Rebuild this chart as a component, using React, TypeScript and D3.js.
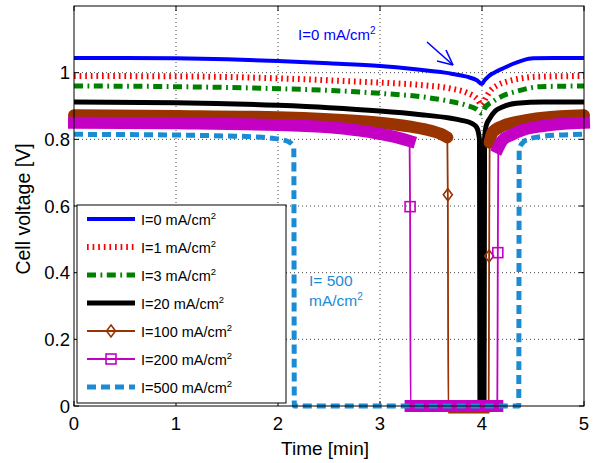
import React from "react";
import * as d3 from "d3";

type Pt = [number, number];

// Axis ticks
const xTicks = [0, 1, 2, 3, 4, 5];
const yTicks = [0, 0.2, 0.4, 0.6, 0.8, 1];
const yTickLabels = ["0", "0.2", "0.4", "0.6", "0.8", "1"];

// Current densities (mA/cm²), in legend order
const currents = [0, 1, 3, 20, 100, 200, 500];

// Cell voltage [V] against time [min] for each current density
const seriesI0: Pt[] = [
  [0, 1.044], [0.5, 1.044], [1, 1.043], [1.5, 1.04], [2, 1.035], [2.5, 1.028],
  [3, 1.02], [3.3, 1.012], [3.5, 1.005], [3.7, 0.997], [3.85, 0.988], [3.95, 0.977],
  [4.0, 0.966], [4.02, 0.975], [4.06, 0.988], [4.12, 1.0], [4.2, 1.012], [4.3, 1.026],
  [4.4, 1.037], [4.5, 1.043], [4.7, 1.044], [5, 1.044],
];
const seriesI1: Pt[] = [
  [0, 0.99], [1, 0.989], [2, 0.983], [2.5, 0.977], [3, 0.97], [3.4, 0.963],
  [3.7, 0.952], [3.85, 0.94], [3.95, 0.922], [4.0, 0.903], [4.03, 0.92], [4.08, 0.945],
  [4.15, 0.962], [4.25, 0.974], [4.35, 0.981], [4.55, 0.988], [5, 0.99],
];
const seriesI3: Pt[] = [
  [0, 0.96], [1, 0.958], [2, 0.952], [2.5, 0.947], [3, 0.938], [3.4, 0.928],
  [3.7, 0.913], [3.85, 0.902], [3.95, 0.89], [4.0, 0.878], [4.03, 0.895], [4.11, 0.914],
  [4.2, 0.93], [4.34, 0.944], [4.57, 0.958], [5, 0.96],
];
const seriesI20: Pt[] = [
  [0, 0.912], [1, 0.91], [2, 0.902], [2.5, 0.895], [3, 0.885], [3.4, 0.874],
  [3.68, 0.864], [3.8, 0.857], [3.9, 0.848], [3.95, 0.835], [3.975, 0.8], [3.98, 0],
  [4.02, 0], [4.025, 0.8], [4.04, 0.84], [4.07, 0.86], [4.13, 0.885], [4.2, 0.897],
  [4.34, 0.908], [4.6, 0.912], [5, 0.912],
];
const seriesI100: Pt[] = [
  [0, 0.872], [1, 0.87], [2, 0.866], [2.5, 0.86], [3, 0.85], [3.3, 0.838],
  [3.5, 0.826], [3.6, 0.816], [3.66, 0.806], [3.665, 0.634], [3.67, -0.02],
  [4.065, -0.02], [4.07, 0.45], [4.075, 0.79], [4.1, 0.82], [4.2, 0.84],
  [4.37, 0.854], [4.6, 0.865], [5, 0.872],
];
const seriesI200: Pt[] = [
  [0, 0.85], [1, 0.848], [2, 0.843], [2.5, 0.836], [2.8, 0.826], [3, 0.816],
  [3.2, 0.803], [3.29, 0.795], [3.295, 0.598], [3.3, 0], [4.15, 0], [4.155, 0.46],
  [4.16, 0.775], [4.2, 0.797], [4.3, 0.815], [4.4, 0.828], [4.6, 0.84], [4.8, 0.847],
  [5, 0.85],
];
const seriesI500: Pt[] = [
  [0, 0.815], [1, 0.813], [1.5, 0.81], [1.8, 0.807], [1.95, 0.803], [2.05, 0.798],
  [2.12, 0.79], [2.155, 0.775], [2.16, 0], [4.36, 0], [4.365, 0.77], [4.4, 0.79],
  [4.45, 0.8], [4.55, 0.807], [4.7, 0.812], [5, 0.815],
];

// Time spans where the marker traces are sampled densely
const bandI100: Pt[] = [[0, 3.66], [4.075, 5]];
const bandI200: Pt[] = [[0, 3.29], [3.3, 4.15], [4.16, 5]];
// Isolated samples on the voltage drops / recoveries
const markersI100: Pt[] = [[3.665, 0.634], [4.07, 0.45]];
const markersI200: Pt[] = [[3.295, 0.598], [4.155, 0.46]];

const W = 595;
const H = 463;
const M = { left: 74, right: 584, top: 6, bottom: 406 };

const C = {
  i0: "#0000ff",
  i1: "#ff0000",
  i3: "#008000",
  i20: "#000000",
  i100: "#993300",
  i200: "#c400c4",
  i500: "#1b8bd4",
};

const FONT = "'Liberation Sans', Arial, Helvetica, sans-serif";

export default function App() {
  const x = d3.scaleLinear().domain([0, 5]).range([M.left, M.right]);
  const y = d3.scaleLinear().domain([0, 1.2]).range([M.bottom, M.top]);

  const line = d3
    .line<Pt>()
    .x((d) => x(d[0]))
    .y((d) => y(d[1]))
    .curve(d3.curveMonotoneX);

  const inRanges = (pts: Pt[], ranges: Pt[]) =>
    ranges.map(([a, b]) => pts.filter((p) => p[0] >= a - 1e-9 && p[0] <= b + 1e-9));

  const diamond = (cx: number, cy: number, key: string) => (
    <path
      key={key}
      d={`M${cx},${cy - 6}L${cx + 4.5},${cy}L${cx},${cy + 6}L${cx - 4.5},${cy}Z`}
      fill="none"
      stroke={C.i100}
      strokeWidth={1.6}
    />
  );
  const square = (cx: number, cy: number, key: string) => (
    <rect
      key={key}
      x={cx - 5}
      y={cy - 5}
      width={10}
      height={10}
      fill="none"
      stroke={C.i200}
      strokeWidth={1.6}
    />
  );

  const styles = [
    { stroke: C.i0, width: 4, dash: undefined as string | undefined },
    { stroke: C.i1, width: 6, dash: "1.7 3.9" },
    { stroke: C.i3, width: 5, dash: "9 4.5 1.8 4.5" },
    { stroke: C.i20, width: 5, dash: undefined },
    { stroke: C.i100, width: 1.8, dash: undefined },
    { stroke: C.i200, width: 1.8, dash: undefined },
    { stroke: C.i500, width: 5, dash: "9 5" },
  ];

  const legendX0 = 87;
  const legendX1 = 135;
  const legendTop = 219;
  const legendStep = 28;

  return (
    <div style={{ position: "fixed", left: 0, top: 0 }}>
      <svg width={W} height={H} style={{ display: "block", background: "#fff" }}>
        <rect x={0} y={0} width={W} height={H} fill="#fff" />

        {/* grid */}
        <g stroke="#444" strokeWidth={1} strokeDasharray="1 3">
          {xTicks.slice(1, -1).map((t) => (
            <line key={`gx${t}`} x1={x(t)} x2={x(t)} y1={M.top} y2={M.bottom} />
          ))}
          {yTicks.slice(1).map((t) => (
            <line key={`gy${t}`} x1={M.left} x2={M.right} y1={y(t)} y2={y(t)} />
          ))}
        </g>

        {/* tick marks on all four sides */}
        <g stroke="#000" strokeWidth={1}>
          {xTicks.map((t) => (
            <g key={`tx${t}`}>
              <line x1={x(t)} x2={x(t)} y1={M.bottom} y2={M.bottom - 5} />
              <line x1={x(t)} x2={x(t)} y1={M.top} y2={M.top + 5} />
            </g>
          ))}
          {yTicks.map((t) => (
            <g key={`ty${t}`}>
              <line x1={M.left} x2={M.left + 5} y1={y(t)} y2={y(t)} />
              <line x1={M.right} x2={M.right - 5} y1={y(t)} y2={y(t)} />
            </g>
          ))}
        </g>

        {/* I=0 */}
        <path d={line(seriesI0) || ""} fill="none" stroke={C.i0} strokeWidth={4} />
        {/* I=1 */}
        <path
          d={line(seriesI1) || ""}
          fill="none"
          stroke={C.i1}
          strokeWidth={6}
          strokeDasharray="1.7 3.9"
        />
        {/* I=3 */}
        <path
          d={line(seriesI3) || ""}
          fill="none"
          stroke={C.i3}
          strokeWidth={5}
          strokeDasharray="9 4.5 1.8 4.5"
        />
        {/* I=20 */}
        <path
          d={line(seriesI20) || ""}
          fill="none"
          stroke={C.i20}
          strokeWidth={5}
          strokeLinejoin="round"
        />
        {/* I=100 */}
        <path d={line(seriesI100) || ""} fill="none" stroke={C.i100} strokeWidth={1.8} />
        {inRanges(seriesI100, bandI100).map((pts, i) => (
          <path
            key={`b100-${i}`}
            d={line(pts) || ""}
            fill="none"
            stroke={C.i100}
            strokeWidth={12}
            strokeLinecap="round"
          />
        ))}
        {markersI100.map((p, i) => diamond(x(p[0]), y(p[1]), `m100-${i}`))}
        {/* I=200 */}
        <path d={line(seriesI200) || ""} fill="none" stroke={C.i200} strokeWidth={1.8} />
        {inRanges(seriesI200, bandI200).map((pts, i) => (
          <path
            key={`b200-${i}`}
            d={line(pts) || ""}
            fill="none"
            stroke={C.i200}
            strokeWidth={12}
            strokeLinecap="square"
          />
        ))}
        {markersI200.map((p, i) => square(x(p[0]), y(p[1]), `m200-${i}`))}
        {/* I=500 */}
        <path
          d={line(seriesI500) || ""}
          fill="none"
          stroke={C.i500}
          strokeWidth={5}
          strokeDasharray="9 5"
        />

        {/* plot frame */}
        <rect
          x={M.left}
          y={M.top}
          width={M.right - M.left}
          height={M.bottom - M.top}
          fill="none"
          stroke="#000"
          strokeWidth={1}
        />

        {/* tick labels */}
        <g fontFamily={FONT} fontSize={18.5} fill="#000">
          {xTicks.map((t) => (
            <text key={`lx${t}`} x={x(t)} y={430} textAnchor="middle">
              {t}
            </text>
          ))}
          {yTicks.map((t, i) => (
            <text key={`ly${t}`} x={M.left - 4} y={y(t) + 6.5} textAnchor="end">
              {yTickLabels[i]}
            </text>
          ))}
        </g>

        {/* axis titles */}
        <text
          x={(M.left + M.right) / 2 - 4}
          y={455}
          textAnchor="middle"
          fontFamily={FONT}
          fontSize={19}
        >
          Time [min]
        </text>
        <text
          transform={`translate(30,${(M.top + M.bottom) / 2 + 3}) rotate(-90)`}
          textAnchor="middle"
          fontFamily={FONT}
          fontSize={19.5}
        >
          Cell voltage [V]
        </text>

        {/* annotations */}
        <text x={298} y={40} fontFamily={FONT} fontSize={15} fill={C.i0}>
          I=0 mA/cm<tspan fontSize={10} dy={-6}>2</tspan>
        </text>
        <g stroke={C.i0} strokeWidth={1.6} fill="none">
          <line x1={427} y1={42} x2={453} y2={65} />
          <line x1={453} y1={65} x2={446} y2={50} />
          <line x1={453} y1={65} x2={437} y2={61} />
        </g>
        <text fontFamily={FONT} fontSize={15.5} fill={C.i500}>
          <tspan x={309} y={286}>I= 500</tspan>
          <tspan x={309} y={306}>mA/cm</tspan>
          <tspan fontSize={10} dy={-6}>2</tspan>
        </text>

        {/* legend */}
        <rect x={77} y={205} width={209} height={198} fill="#fff" stroke="#000" strokeWidth={1} />
        {currents.map((c, i) => {
          const cy = legendTop + i * legendStep;
          const s = styles[i];
          return (
            <g key={`lg${c}`}>
              <line
                x1={legendX0}
                x2={legendX1}
                y1={cy}
                y2={cy}
                stroke={s.stroke}
                strokeWidth={s.width}
                strokeDasharray={s.dash}
              />
              {i === 4 && diamond((legendX0 + legendX1) / 2, cy, "ld")}
              {i === 5 && square((legendX0 + legendX1) / 2, cy, "ls")}
              <text x={141} y={cy + 6} fontFamily={FONT} fontSize={14.5} fill="#000">
                I={c} mA/cm<tspan fontSize={9.5} dy={-6}>2</tspan>
              </text>
            </g>
          );
        })}
      </svg>
    </div>
  );
}
